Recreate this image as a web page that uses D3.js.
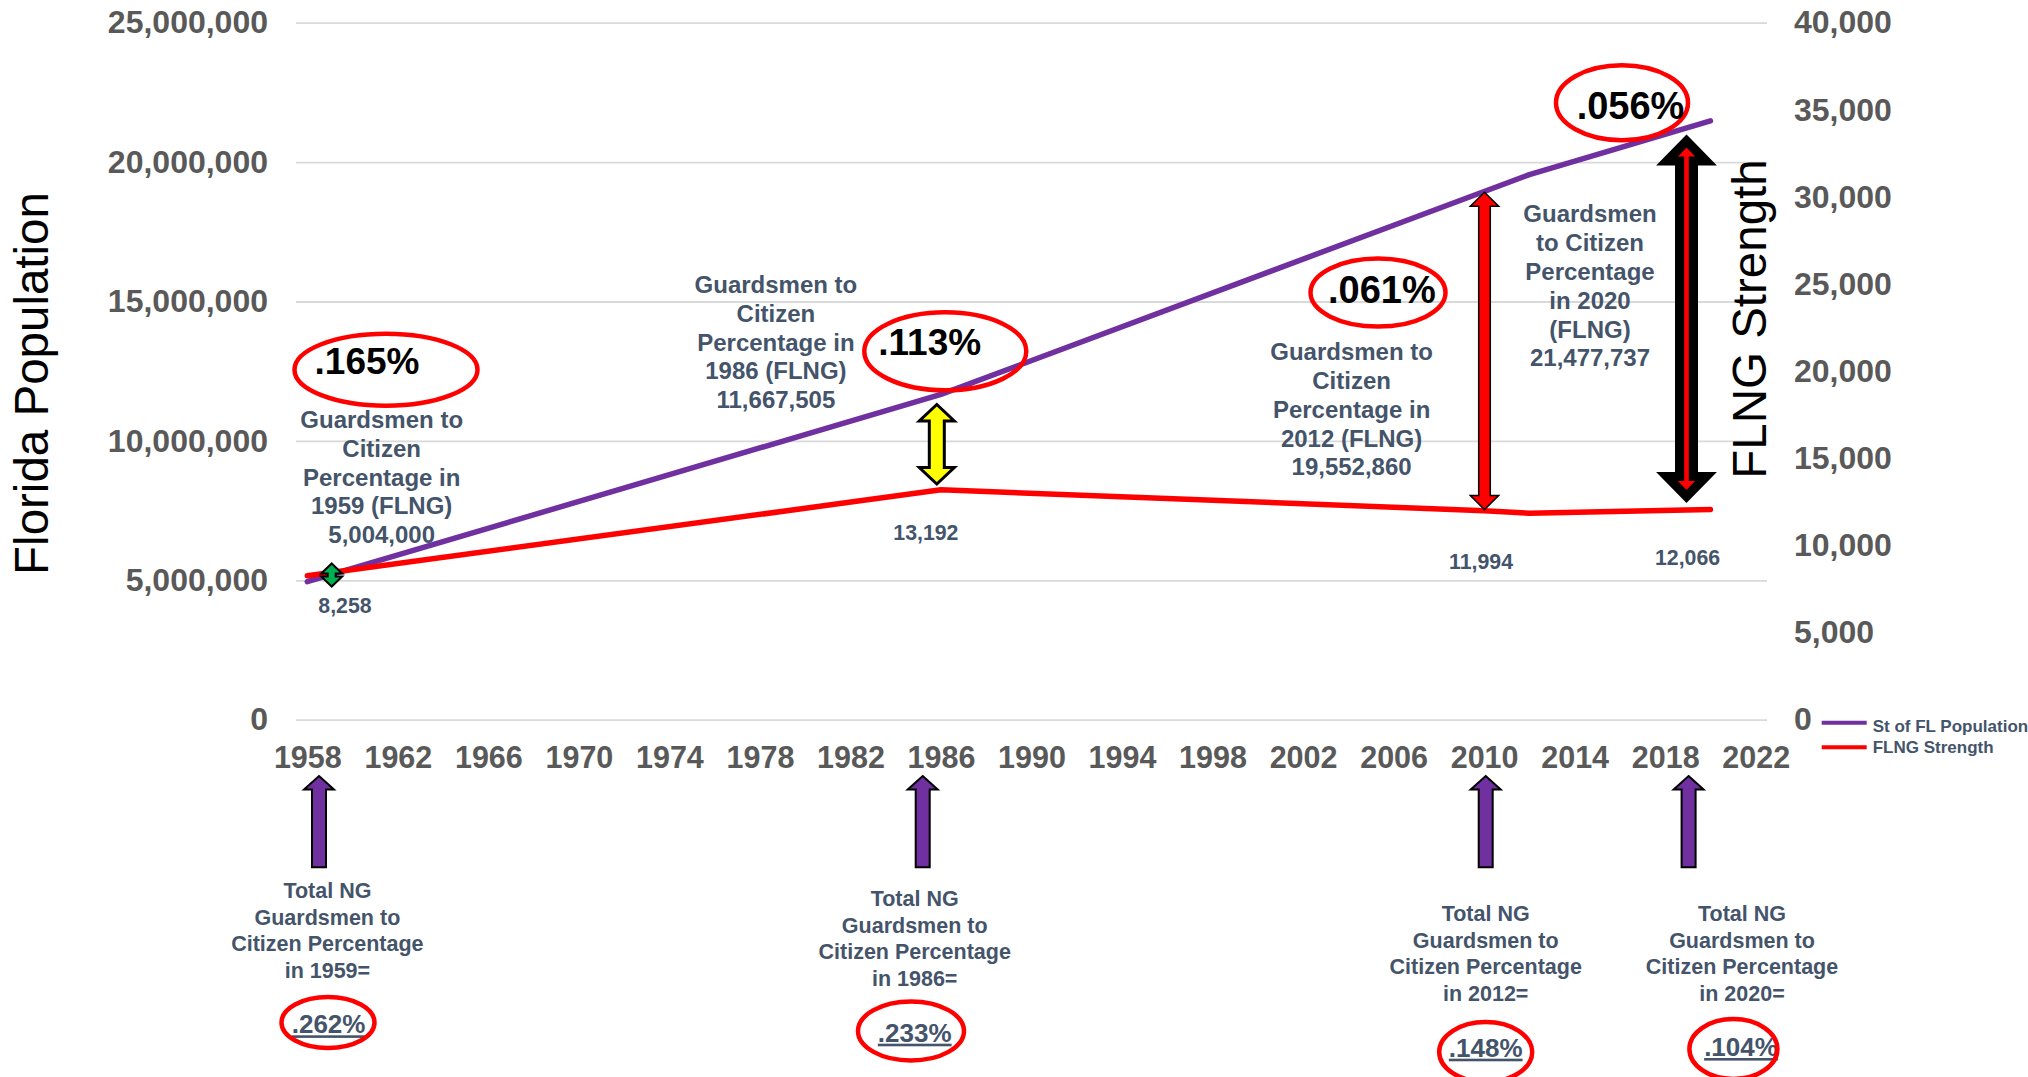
<!DOCTYPE html>
<html><head><meta charset="utf-8">
<script src="https://cdn.jsdelivr.net/npm/d3@7"></script>
<style>
body{margin:0;background:#fff;}
svg{display:block;font-family:"Liberation Sans",Arial,Helvetica,sans-serif;}
</style></head><body>
<svg id="chart" width="2028" height="1077"></svg>
<script>
// ---------- DATA ----------
const categoryYears = [1958,1959,1960,1961,1962,1963,1964,1965,1966,1967,1968,1969,1970,1971,1972,1973,1974,1975,1976,1977,1978,1979,1980,1981,1982,1983,1984,1985,1986,1987,1988,1989,1990,1991,1992,1993,1994,1995,1996,1997,1998,1999,2000,2001,2002,2003,2004,2005,2006,2007,2008,2009,2010,2011,2012,2013,2014,2015,2016,2017,2018,2019,2020,2021,2022];
const tickYears = [1958,1962,1966,1970,1974,1978,1982,1986,1990,1994,1998,2002,2006,2010,2014,2018,2022];
const leftTicks = [0,5000000,10000000,15000000,20000000,25000000];
const rightTicks = [0,5000,10000,15000,20000,25000,30000,35000,40000];
const seriesNames = ["St of FL Population","FLNG Strength"];
const popYears = [1958,1986,2012,2020];
const popValues = [4950000,11667505,19552860,21477737];
const strengthYears = [1958,1986,2010,2012,2020];
const strengthValues = [8258,13192,11994,11850,12066];
const strengthLabelYears = [1958,1986,2010,2020];
const strengthLabelTexts = ["8,258","13,192","11,994","12,066"];
const ratioTexts = [".165%",".113%",".061%",".056%"];
const popNotes = [
  ["Guardsmen to","Citizen","Percentage in","1959 (FLNG)","5,004,000"],
  ["Guardsmen to","Citizen","Percentage in","1986 (FLNG)","11,667,505"],
  ["Guardsmen to","Citizen","Percentage in","2012 (FLNG)","19,552,860"],
  ["Guardsmen","to Citizen","Percentage","in 2020","(FLNG)","21,477,737"]
];
const totalNotes = [
  ["Total NG","Guardsmen to","Citizen Percentage","in 1959="],
  ["Total NG","Guardsmen to","Citizen Percentage","in 1986="],
  ["Total NG","Guardsmen to","Citizen Percentage","in 2012="],
  ["Total NG","Guardsmen to","Citizen Percentage","in 2020="]
];
const totalTexts = [".262%",".233%",".148%",".104%"];

// ---------- LAYOUT ----------
const svg = d3.select("#chart");
svg.append("rect").attr("width",2028).attr("height",1077).attr("fill","#fff");
const L = 296, R = 1767, T = 22.7, B = 719.7;
const TXT = "#44546A", AX = "#595959", PURPLE = "#7030A0", RED = "#FF0000";

const x = d3.scalePoint().domain(categoryYears).range([L,R]).padding(0.5);
const yL = d3.scaleLinear().domain([0,25000000]).range([B,T]);
const yR = d3.scaleLinear().domain([0,40000]).range([B,T]);

// gridlines
const grid = svg.append("g").attr("transform",`translate(${L},0)`)
  .call(d3.axisLeft(yL).tickValues(leftTicks).tickSize(-(R-L)).tickFormat(""));
grid.select(".domain").remove();
grid.selectAll("line").attr("stroke","#d9d9d9").attr("stroke-width",1.8);

// left axis
const gl = svg.append("g").attr("transform",`translate(${L},0)`)
  .call(d3.axisLeft(yL).tickValues(leftTicks).tickSize(0).tickPadding(28).tickFormat(d3.format(",")));
gl.select(".domain").remove();
gl.selectAll("text").attr("font-size",32).attr("font-weight","bold").attr("fill",AX).attr("font-family",null);

// right axis
const gr = svg.append("g").attr("transform",`translate(${R},0)`)
  .call(d3.axisRight(yR).tickValues(rightTicks).tickSize(0).tickPadding(27).tickFormat(d3.format(",")));
gr.select(".domain").remove();
gr.selectAll("text").attr("font-size",32).attr("font-weight","bold").attr("fill",AX).attr("font-family",null);

// bottom axis
const gb = svg.append("g").attr("transform",`translate(0,${B})`)
  .call(d3.axisBottom(x).tickValues(tickYears).tickSize(0).tickPadding(27));
gb.select(".domain").remove();
gb.selectAll("text").attr("font-size",30.5).attr("font-weight","bold").attr("fill",AX).attr("font-family",null);

// axis titles
svg.append("text").attr("transform","translate(47.5,383.5) rotate(-90)")
  .attr("text-anchor","middle").attr("font-size",47.5).attr("fill","#000").text("Florida Population");
svg.append("text").attr("transform","translate(1765.5,319) rotate(-90)")
  .attr("text-anchor","middle").attr("font-size",47.5).attr("fill","#000").text("FLNG Strength");

// lines
const popData = popYears.map((d,i)=>({year:d,v:popValues[i]}));
const strData = strengthYears.map((d,i)=>({year:d,v:strengthValues[i]}));
svg.append("path").datum(popData)
  .attr("d",d3.line().x(d=>x(d.year)).y(d=>yL(d.v)))
  .attr("fill","none").attr("stroke",PURPLE).attr("stroke-width",5.5)
  .attr("stroke-linejoin","round").attr("stroke-linecap","round");
svg.append("path").datum(strData)
  .attr("d",d3.line().x(d=>x(d.year)).y(d=>yR(d.v)))
  .attr("fill","none").attr("stroke",RED).attr("stroke-width",5.5)
  .attr("stroke-linejoin","round").attr("stroke-linecap","round");

// legend
const lg = svg.append("g");
[[PURPLE,722.7,732.3],[RED,747.3,753.3]].forEach((c,i)=>{
  lg.append("line").attr("x1",1821.7).attr("x2",1866.7).attr("y1",c[1]).attr("y2",c[1])
    .attr("stroke",c[0]).attr("stroke-width",4);
  lg.append("text").attr("x",1872.7).attr("y",c[2]).attr("font-size",17).attr("font-weight","bold")
    .attr("fill",TXT).text(seriesNames[i]);
});

// helpers
function multiline(lines, cx, base0, lh, size, color){
  const t = svg.append("text").attr("text-anchor","middle").attr("font-size",size)
    .attr("font-weight","bold").attr("fill",color);
  lines.forEach((s,i)=>t.append("tspan").attr("x",cx).attr("y",base0+i*lh).text(s));
  return t;
}
function dbl(cx,y1,y2,hw,sw,hh){
  return [[cx,y1],[cx+hw,y1+hh],[cx+sw,y1+hh],[cx+sw,y2-hh],[cx+hw,y2-hh],[cx,y2],
          [cx-hw,y2-hh],[cx-sw,y2-hh],[cx-sw,y1+hh],[cx-hw,y1+hh]];
}
function up(cx,y1,y2,hw,sw,hh){
  return [[cx,y1],[cx+hw,y1+hh],[cx+sw,y1+hh],[cx+sw,y2],[cx-sw,y2],[cx-sw,y1+hh],[cx-hw,y1+hh]];
}
const poly = d3.line();

// strength data labels
const labelPos = [[345,612.6],[925.9,540.3],[1481,569.4],[1687.6,564.7]];
strengthLabelTexts.forEach((s,i)=>{
  svg.append("text").attr("x",labelPos[i][0]).attr("y",labelPos[i][1]).attr("text-anchor","middle")
    .attr("font-size",21.3).attr("font-weight","bold").attr("fill",TXT).text(s);
});

// top annotation blocks
multiline(popNotes[0],381.7,428.3,28.7,24,TXT);
multiline(popNotes[1],775.9,293.3,28.7,24,TXT);
multiline(popNotes[2],1351.6,360.4,28.7,24,TXT);
multiline(popNotes[3],1590,222.1,28.86,24,TXT);

// double arrows
svg.append("path").attr("d",poly(dbl(331.7,563.5,586.5,10.5,4,10))+"Z")
  .attr("fill","#00B050").attr("stroke","#000").attr("stroke-width",2);
svg.append("path").attr("d",poly(dbl(936.8,404.5,484,17.5,7.5,16.5))+"Z")
  .attr("fill","#FFFF00").attr("stroke","#000").attr("stroke-width",3);
svg.append("path").attr("d",poly(dbl(1484.5,192.3,509.6,14.2,5.8,14))+"Z")
  .attr("fill",RED).attr("stroke","#000").attr("stroke-width",1.5);
svg.append("path").attr("d",poly(dbl(1686.5,141,496.5,19.5,6.9,20))+"Z")
  .attr("fill",RED).attr("stroke","#000").attr("stroke-width",9.2);

// ratio ellipses
const ell = [[386,369.7,91.5,36,367,374,37],[945.3,351.3,81,39,929.7,355,37],
             [1378,292.6,67.5,34,1381.9,302.5,38],[1622,102.8,66,37.5,1630.5,118.6,38]];
ell.forEach((e,i)=>{
  svg.append("ellipse").attr("cx",e[0]).attr("cy",e[1]).attr("rx",e[2]).attr("ry",e[3])
    .attr("fill","none").attr("stroke",RED).attr("stroke-width",4.5);
  svg.append("text").attr("x",e[4]).attr("y",e[5]).attr("text-anchor","middle")
    .attr("font-size",e[6]).attr("font-weight","bold").attr("fill","#000").text(ratioTexts[i]);
});

// purple up arrows
[319,922.7,1485.7,1688.6].forEach(cx=>{
  svg.append("path").attr("d",poly(up(cx,776,867.3,15,7,13.5))+"Z")
    .attr("fill",PURPLE).attr("stroke","#000").attr("stroke-width",2);
});

// bottom notes
multiline(totalNotes[0],327.4,898.0,26.7,21.5,TXT);
multiline(totalNotes[1],914.7,906.0,26.7,21.5,TXT);
multiline(totalNotes[2],1485.7,921.0,26.7,21.5,TXT);
multiline(totalNotes[3],1742,921.0,26.7,21.5,TXT);

const bot = [[328,1022.5,46.5,25.5,328.6,1033.3],[911,1031,53,29.5,914.7,1041.7],
             [1485.7,1052,46.5,30,1485.7,1056.7],[1733.4,1049,44,30,1741,1056]];
bot.forEach((e,i)=>{
  svg.append("text").attr("x",e[4]).attr("y",e[5]).attr("text-anchor","middle")
    .attr("font-size",26).attr("font-weight","bold").attr("fill",TXT)
    .attr("text-decoration","underline").text(totalTexts[i]);
  svg.append("ellipse").attr("cx",e[0]).attr("cy",e[1]).attr("rx",e[2]).attr("ry",e[3])
    .attr("fill","none").attr("stroke",RED).attr("stroke-width",4.5);
});
</script>
</body></html>
